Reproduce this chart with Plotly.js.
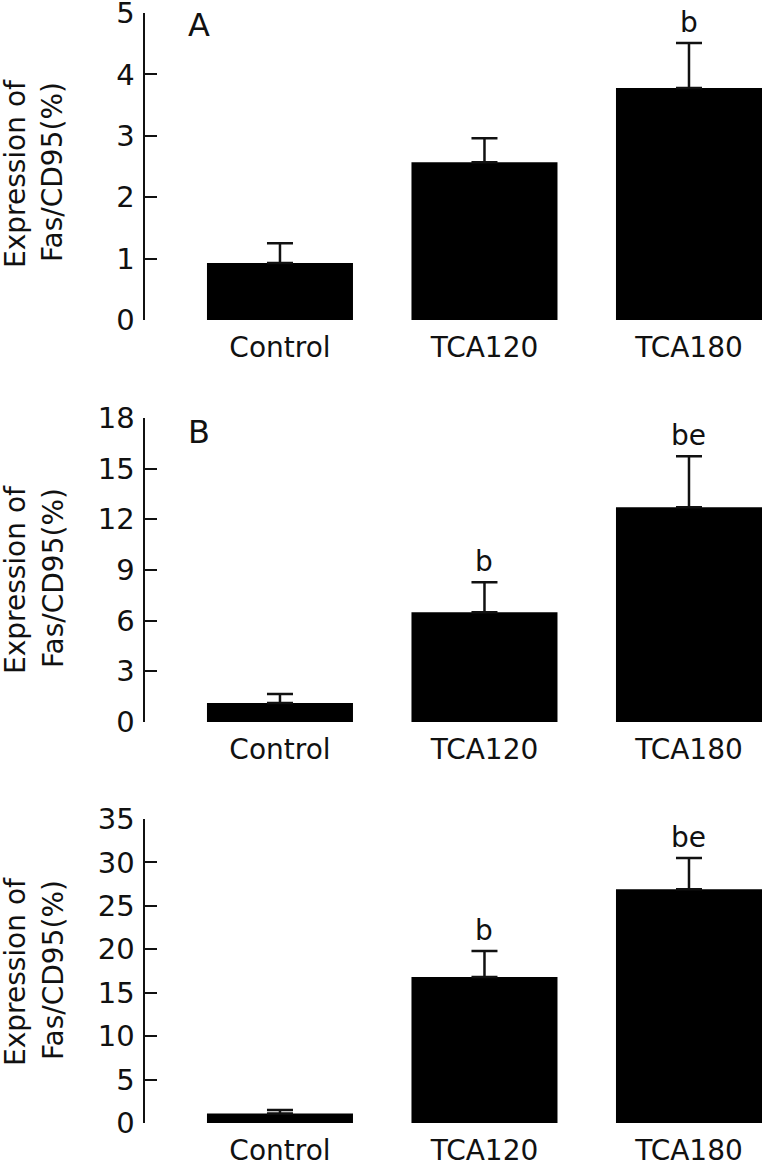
<!DOCTYPE html>
<html><head><meta charset="utf-8">
<script src="https://cdn.plot.ly/plotly-3.0.1.min.js"></script>
<style>html,body{margin:0;padding:0;background:#fff;overflow:hidden}#chart{width:762px;height:1162px}</style>
</head><body><div id="chart"></div>
<script>
// ---- data ----
const categories = ["Control", "TCA120", "TCA180"];
const meanA = [0.93, 2.57, 3.78];
const sdA   = [0.32, 0.39, 0.73];
const sigA  = ["", "", "b"];
const meanB = [1.12, 6.5, 12.72];
const sdB   = [0.54, 1.78, 3.02];
const sigB  = ["", "b", "be"];
const meanC = [1.1, 16.8, 26.9];
const sdC   = [0.4, 3.0, 3.6];
const sigC  = ["", "b", "be"];
const ticksA = [0, 1, 2, 3, 4, 5];
const ticksB = [0, 3, 6, 9, 12, 15, 18];
const ticksC = [0, 5, 10, 15, 20, 25, 30, 35];
const panelLetters = ["A", "B", ""];
const yTitleLine1 = "Expression of";
const yTitleLine2 = "Fas/CD95(%)";

// ---- layout helpers ----
const W = 762, H = 1162, L = 145;
const FONT = "DejaVu Sans";
const INK = "#111";
const panels = [
  {mean: meanA, sd: sdA, sig: sigA, ticks: ticksA, top: 13, bottom: 320, titleY: 174, letter: panelLetters[0], letterY: 25},
  {mean: meanB, sd: sdB, sig: sigB, ticks: ticksB, top: 418, bottom: 722, titleY: 580, letter: panelLetters[1], letterY: 432},
  {mean: meanC, sd: sdC, sig: sigC, ticks: ticksC, top: 819, bottom: 1123, titleY: 972, letter: panelLetters[2], letterY: 830}
];
const px2x = p => (p - L) / (W - L);
const py2y = p => 1 - p / H;

const data = [];
const layout = {
  width: W, height: H,
  margin: {l: L, r: 0, t: 0, b: 0},
  paper_bgcolor: "#fff", plot_bgcolor: "#fff",
  showlegend: false,
  font: {family: FONT, size: 28, color: INK},
  annotations: []
};

panels.forEach((p, i) => {
  const n = i === 0 ? "" : String(i + 1);
  const xa = "x" + n, ya = "y" + n;
  data.push({
    type: "bar", x: categories, y: p.mean,
    xaxis: xa, yaxis: ya, width: 0.714,
    marker: {color: "#000", line: {width: 0}},
    error_y: {type: "data", symmetric: false, array: p.sd, arrayminus: p.sd.map(() => 0),
              color: INK, thickness: 2.5, width: 13},
    hoverinfo: "none"
  });
  const ymax = p.ticks[p.ticks.length - 1];
  layout["xaxis" + n] = {
    domain: [0, 1], anchor: ya, type: "category",
    range: [-0.66, 2.357], showline: false, showgrid: false, zeroline: false,
    ticks: "", ticklabelstandoff: 8, ticklabeloverflow: "allow",
    tickfont: {family: FONT, size: 28, color: INK}, fixedrange: true
  };
  layout["yaxis" + n] = {
    domain: [py2y(p.bottom), py2y(p.top)], anchor: xa,
    range: [0, ymax], tickvals: p.ticks, ticktext: p.ticks.map(String),
    showline: true, linecolor: INK, linewidth: 2.5, mirror: false,
    ticks: "inside", ticklen: 12, tickwidth: 2, tickcolor: INK,
    showgrid: false, zeroline: false, ticklabeloverflow: "allow", ticklabelstandoff: 2,
    tickfont: {family: FONT, size: 29, color: INK}, fixedrange: true
  };
  // significance marks
  p.sig.forEach((s, k) => {
    if (!s) return;
    layout.annotations.push({
      xref: xa, yref: ya, x: categories[k], y: p.mean[k] + p.sd[k],
      text: s, showarrow: false, yanchor: "bottom", yshift: 2,
      font: {family: FONT, size: 28, color: INK}
    });
  });
  // y titles (two lines)
  layout.annotations.push({
    xref: "paper", yref: "paper", x: px2x(15), y: py2y(p.titleY),
    text: yTitleLine1, textangle: -90, showarrow: false,
    xanchor: "center", yanchor: "middle", font: {family: FONT, size: 28, color: INK}
  });
  layout.annotations.push({
    xref: "paper", yref: "paper", x: px2x(53), y: py2y(p.titleY - 2),
    text: yTitleLine2, textangle: -90, showarrow: false,
    xanchor: "center", yanchor: "middle", font: {family: FONT, size: 28, color: INK}
  });
  if (p.letter) {
    layout.annotations.push({
      xref: "paper", yref: "paper", x: px2x(199), y: py2y(p.letterY),
      text: p.letter, showarrow: false, xanchor: "center", yanchor: "middle",
      font: {family: FONT, size: 32, color: INK}
    });
  }
});

Plotly.newPlot("chart", data, layout, {staticPlot: true, displayModeBar: false});
</script>
</body></html>
